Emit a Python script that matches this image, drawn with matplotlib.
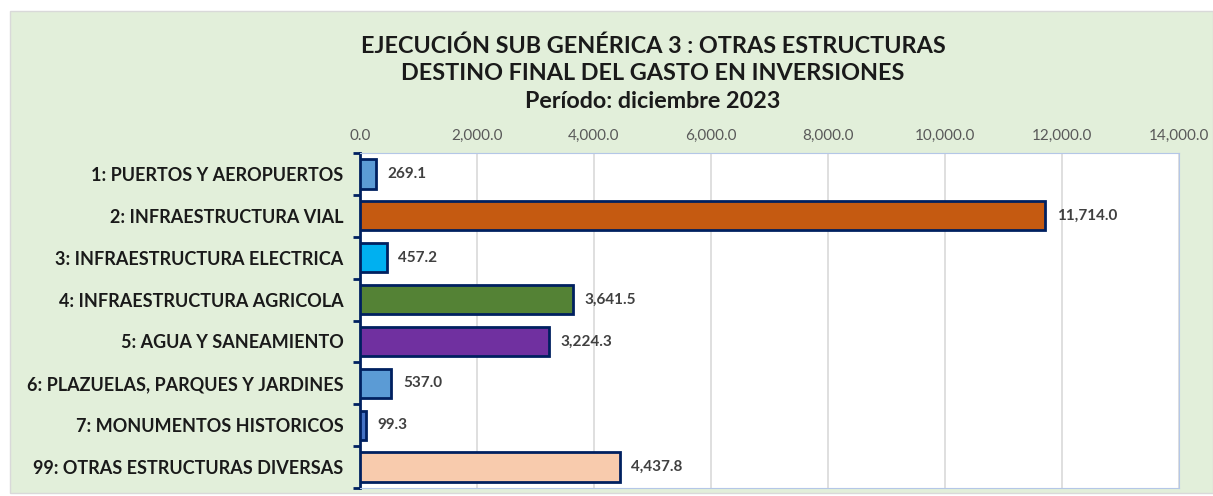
import matplotlib.pyplot as plt
from matplotlib.patches import Rectangle
from matplotlib.ticker import FuncFormatter
import numpy as np

categories = ['1: PUERTOS Y AEROPUERTOS', '2: INFRAESTRUCTURA VIAL',
              '3: INFRAESTRUCTURA ELECTRICA', '4: INFRAESTRUCTURA AGRICOLA',
              '5: AGUA Y SANEAMIENTO', '6: PLAZUELAS, PARQUES Y JARDINES',
              '7: MONUMENTOS HISTORICOS', '99: OTRAS ESTRUCTURAS DIVERSAS']
values = [269.1, 11714.0, 457.2, 3641.5, 3224.3, 537.0, 99.3, 4437.8]
colors = ['#5B9BD5', '#C55A11', '#00B0F0', '#548235', '#7030A0',
          '#5B9BD5', '#4472C4', '#F8CBAD']
title_lines = ['EJECUCIÓN SUB GENÉRICA 3 : OTRAS ESTRUCTURAS',
               'DESTINO FINAL DEL GASTO EN INVERSIONES',
               'Período: diciembre 2023']

plt.rcParams['font.family'] = ['Lato', 'DejaVu Sans']

W, H = 1213, 496
fig = plt.figure(figsize=(W / 100, H / 100), dpi=100)
fig.patch.set_facecolor('white')
# green chart panel
fig.patches.append(Rectangle((10 / W, 3 / H), 1 - 10 / W, 1 - 14 / H,
                             transform=fig.transFigure, facecolor='#E2EFDA',
                             edgecolor='#D9D9D9', lw=1, zorder=-5))

ax = fig.add_axes([360 / W, 8 / H, (1179 - 360) / W, (343 - 8) / H])
ax.set_facecolor('white')
y = np.arange(len(categories))
ax.barh(y, values, height=0.7, color=colors, edgecolor='#002060',
        linewidth=2, zorder=3)
for yi, v in zip(y, values):
    ax.text(v + 200, yi, f'{v:,.1f}', va='center', ha='left', fontsize=11,
            fontweight='bold', color='#404040')

ax.set_xlim(0, 14000)
ax.set_ylim(len(categories) - 0.5, -0.5)
ax.set_xticks(np.arange(0, 14001, 2000))
ax.xaxis.set_major_formatter(FuncFormatter(lambda v, p: f'{v:,.1f}'))
ax.xaxis.tick_top()
ax.tick_params(axis='x', length=0, pad=7, labelsize=11, labelcolor='#595959')
ax.grid(axis='x', color='#D9D9D9', lw=1.2, zorder=0)

ax.set_yticks(y)
ax.set_yticklabels(categories, fontsize=13, fontweight='bold', color='#1a1a1a')
ax.tick_params(axis='y', length=0, pad=12)
ax.set_yticks(np.arange(-0.5, len(categories)), minor=True)
ax.tick_params(axis='y', which='minor', length=5, width=2, color='#002060')

for s in ['top', 'right', 'bottom']:
    ax.spines[s].set_color('#B4C7E7')
ax.spines['left'].set_color('#002060')
ax.spines['left'].set_linewidth(2)

for line, ypx in zip(title_lines, [46, 73, 101]):
    fig.text(653 / W, 1 - ypx / H, line, ha='center', va='center',
             fontsize=16.8, fontweight='bold', color='#1a1a1a')

plt.savefig('out.png', dpi=100)
